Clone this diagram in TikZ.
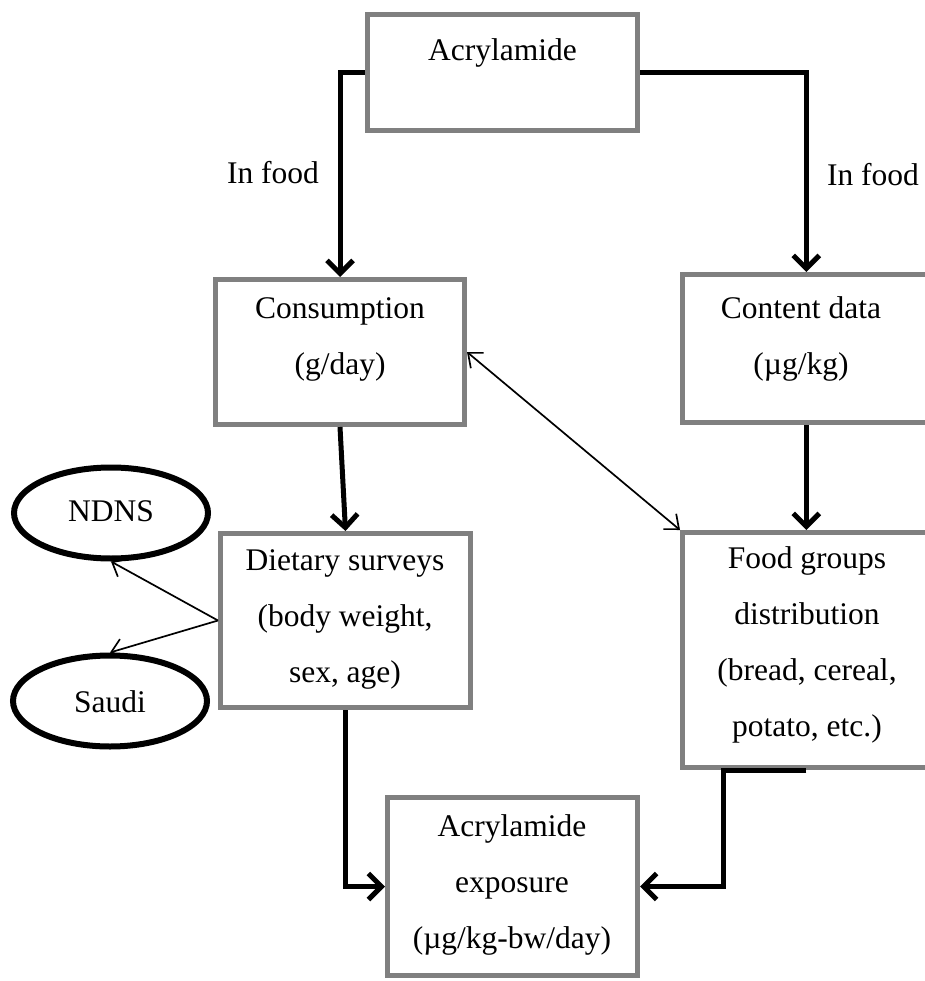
\documentclass[tikz,border=0pt]{standalone}
\usepackage{fontspec}
\setmainfont{Liberation Serif}
\usetikzlibrary{arrows.meta,shapes.geometric}

\definecolor{boxgray}{RGB}{128,128,128}

\tikzset{
  box/.style={draw=boxgray, line width=5pt, rectangle, inner sep=0pt, fill=white},
  oval/.style={draw=black, line width=6pt, ellipse, inner sep=0pt,
               minimum width=194pt, minimum height=91pt},
  txt/.style={align=center, inner sep=0pt, font=\fontsize{31.5}{56}\selectfont},
  flow/.style={line width=5pt, -{Straight Barb[length=13pt,width=26pt]}},
  link/.style={line width=1.7pt, -{Straight Barb[length=12pt,width=20pt]}},
  dlink/.style={line width=1.7pt, {Straight Barb[length=12pt,width=20pt]}-{Straight Barb[length=12pt,width=20pt]}}
}

\begin{document}
\begin{tikzpicture}[x=1pt,y=-1pt]
\useasboundingbox (0,0) rectangle (924,981);

% boxes
\node[box, minimum width=270pt, minimum height=116pt] (top) at (502.5,72.5) {};
\node[box, minimum width=249pt, minimum height=145pt] (cons) at (340,352) {};
\node[box, minimum width=247.5pt, minimum height=148pt] (cont) at (806.25,348.5) {};
\node[box, minimum width=250pt, minimum height=174pt] (diet) at (345.5,620.5) {};
\node[box, minimum width=247.5pt, minimum height=235pt] (food) at (806.25,650) {};
\node[box, minimum width=250pt, minimum height=178pt] (expo) at (512.5,886.5) {};

% ellipses
\node[oval] (ndns) at (111,513) {};
\node[oval] (saudi) at (110,701) {};

% texts
\node[txt] (topT) at (502.5,53) {Acrylamide};
\node[txt] (consT) at (340,339) {Consumption\\(g/day)};
\node[txt] (contT) at (801,339) {Content data\\(µg/kg)};
\node[txt] (dietT) at (345,619) {Dietary surveys\\(body weight,\\sex, age)};
\node[txt] (foodT) at (807,645) {Food groups\\distribution\\(bread, cereal,\\potato, etc.)};
\node[txt] (expoT) at (512,885) {Acrylamide\\exposure\\(µg/kg-bw/day)};
\node[txt] (ndnsT) at (111,511) {NDNS};
\node[txt] (saudiT) at (110,702) {Saudi};
\node[txt] (lblL) at (273,173) {In food};
\node[txt] (lblR) at (873,175) {In food};

% main flow
\draw[flow] (top.west) -| (cons.north);
\draw[flow] (top.east) -| (cont.north);
\draw[flow] (cons.south) -- (diet.north);
\draw[flow] (cont.south) -- (food.north);
\draw[flow] (diet.south) |- (expo.west);
\coordinate (fbend) at (723,770);
\draw[flow] (food.south) -- (fbend) |- (expo.east);

% thin links
\draw[dlink] (cons.east) -- (food.north west);
\draw[link] (diet.west) -- (ndns.south);
\draw[link] (diet.west) -- (saudi.north);
\end{tikzpicture}
\end{document}
